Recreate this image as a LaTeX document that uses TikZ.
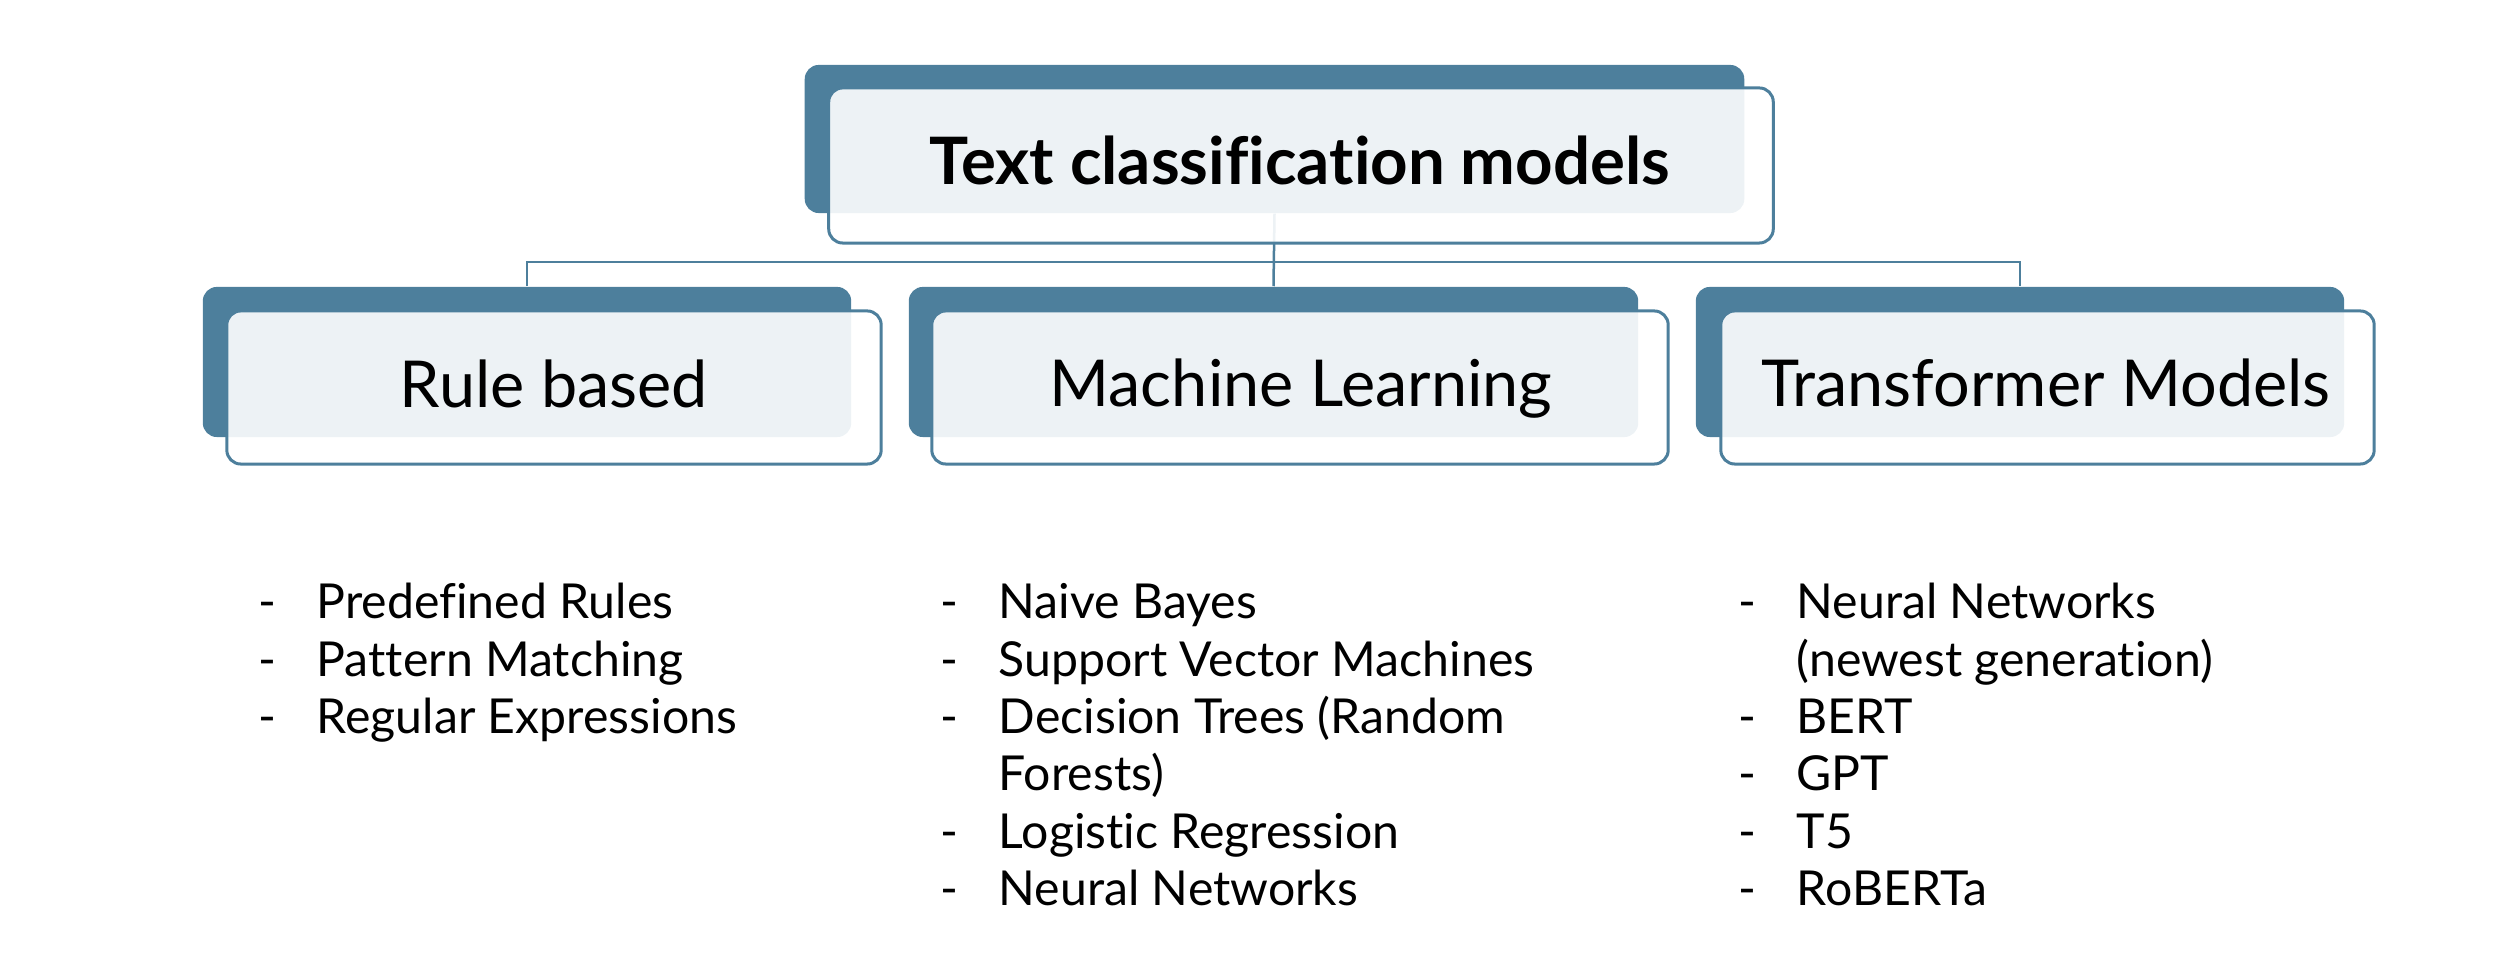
\documentclass[tikz,border=0pt]{standalone}
\usepackage{fontspec}
\setmainfont{Lato}[Ligatures=NoCommon]
\definecolor{dk}{HTML}{4D7F9C}
\tikzset{
  backbox/.style={fill=dk, draw=none, rounded corners=0.14cm, inner sep=0pt},
  frontbox/.style={draw=dk, line width=0.03cm, fill=white, fill opacity=0.9, rounded corners=0.14cm, inner sep=0pt},
  conn/.style={draw=dk, line width=0.025cm},
  boxtext/.style={anchor=base, inner sep=0pt, font=\fontsize{18.4}{22}\selectfont},
  titletext/.style={anchor=base, inner sep=0pt, font=\bfseries\fontsize{18.6}{22}\selectfont},
  item/.style={anchor=base west, inner sep=0pt, font=\fontsize{13.7}{16}\selectfont}
}
\newcommand{\dashitem}[1]{\makebox[0.58cm][l]{-}#1}
\begin{document}
\begin{tikzpicture}[x=0.01cm,y=-0.01cm]
\useasboundingbox (0,0) rectangle (2493,962);
% back boxes
\node[backbox, minimum width=9.39cm, minimum height=1.48cm] (tb) at (1274.5,139) {};
\node[backbox, minimum width=6.48cm, minimum height=1.50cm] (rb) at (527,362) {};
\node[backbox, minimum width=7.29cm, minimum height=1.50cm] (mb) at (1273.5,362) {};
\node[backbox, minimum width=6.48cm, minimum height=1.50cm] (xb) at (2020,362) {};
% connectors
\draw[conn] (tb.south) -- (mb.north);
\draw[conn] (rb.north) -- ++(0,-24) -| (xb.north);
% front boxes
\node[frontbox, minimum width=9.44cm, minimum height=1.55cm] (tf) at (1301,165.5) {};
\node[frontbox, minimum width=6.54cm, minimum height=1.53cm] (rf) at (554,387.5) {};
\node[frontbox, minimum width=7.36cm, minimum height=1.53cm] (mf) at (1300,387.5) {};
\node[frontbox, minimum width=6.53cm, minimum height=1.53cm] (xf) at (2047.5,387.5) {};
% box texts
\node[titletext] (tt) at (1300,185) {Text classificat\kern0pt ion models};
\node[boxtext] (rt) at (554,408) {Rule based};
\node[boxtext] (mt) at (1301,407) {Machine Learning};
\node[boxtext] (xt) at (2046,407) {Transformer Models};
% rule based list
\node[item] (r1) at (258,619) {\dashitem{Predefined Rules}};
\node[item] (r2) at (258,676.3) {\dashitem{Pattern Matching}};
\node[item] (r3) at (258,733.6) {\dashitem{Regular Expressions}};
% machine learning list
\node[item] (m1) at (940,619) {\dashitem{Naive Bayes}};
\node[item] (m2) at (940,676.3) {\dashitem{Support Vector Machines}};
\node[item] (m3) at (940,733.6) {\dashitem{Decision Trees (Random}};
\node[item] (m3b) at (998,790.9) {Forests)};
\node[item] (m4) at (940,848.2) {\dashitem{Logistic Regression}};
\node[item] (m5) at (940,905.5) {\dashitem{Neural Networks}};
% transformer list
\node[item] (x1) at (1738,619) {\dashitem{Neural Networks}};
\node[item] (x1b) at (1796,676.3) {(newest generation)};
\node[item] (x2) at (1738,733.6) {\dashitem{BERT}};
\node[item] (x3) at (1738,790.9) {\dashitem{GPT}};
\node[item] (x4) at (1738,848.2) {\dashitem{T5}};
\node[item] (x5) at (1738,905.5) {\dashitem{RoBERTa}};
\end{tikzpicture}
\end{document}
